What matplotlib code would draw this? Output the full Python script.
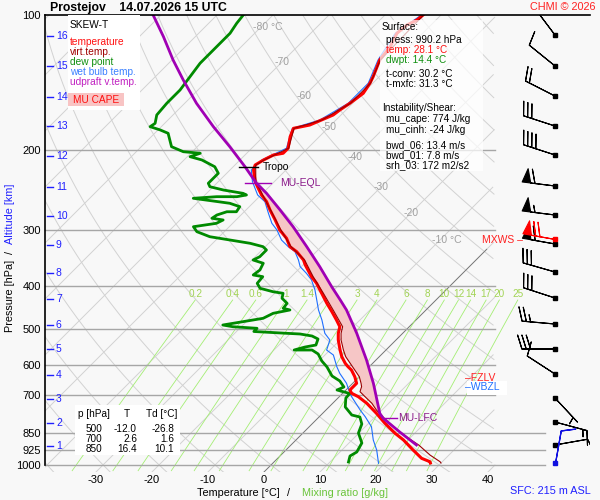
import numpy as np
import matplotlib
matplotlib.use('Agg')
import matplotlib.pyplot as plt
from matplotlib.patches import Rectangle
from matplotlib.ticker import NullLocator

plt.rcParams['font.family'] = ['Liberation Sans', 'DejaVu Sans']

# ---- sounding values (hPa, deg C) ----
temp_p = [100, 102.6, 105.3, 109.8, 117.6, 125.9, 131.4, 137.1, 141.8, 149.3, 153.2, 157.1, 162.6,
          166.8, 171.2, 175.6, 178.6, 186.4, 197.8, 202.9, 204.7, 210.0, 215.5, 221.0, 234.7, 240.8,
          251.2, 260.0, 271.3, 285.5, 300.5, 313.6, 327.3, 335.8, 350.4, 359.4, 381.6, 394.8, 415.5,
          437.3, 456.5, 476.3, 493.0, 509.9, 527.7, 555.4, 574.7, 594.5, 604.9, 615.2, 636.7, 658.6,
          670.2, 681.5, 693.1, 705.3, 729.6, 767.9, 808.2, 850.6, 880.3, 926.6, 966.8, 983.7, 990.2]
temp_t = [-53.2, -53.4, -54.3, -54.6, -53.4, -52.9, -52.0, -51.1, -50.5, -49.9, -50.2, -50.5, -51.1,
          -51.4, -52.6, -53.8, -56.1, -55.2, -53.5, -53.5, -54.9, -55.8, -56.4, -55.8, -53.4, -52.1,
          -49.9, -47.8, -45.7, -43.0, -40.4, -37.7, -35.6, -33.5, -30.8, -29.6, -26.4, -24.3, -21.6,
          -18.9, -16.5, -14.2, -12.4, -11.5, -10.3, -8.2, -6.7, -4.9, -3.8, -2.6, -0.8, 0.7,
          0.7, 0.7, 1.6, 3.4, 6.1, 9.6, 12.9, 16.5, 19.2, 22.7, 25.7, 27.8, 28.1]

virt_p = [100, 125.9, 141.8, 157.1, 171.2, 178.6, 197.8, 210.0, 215.5, 234.7, 251.2, 271.3, 300.5,
          327.3, 350.4, 381.6, 415.5, 456.5, 493.0, 509.9, 527.7, 555.4, 574.7, 604.9, 636.7, 658.6,
          670.2, 687.4, 705.3, 729.6, 755.0, 787.8, 836.3, 872.6, 903.0, 950.5, 983.7, 990.2]
virt_t = [-53.1, -52.8, -50.4, -50.4, -52.5, -56.0, -53.4, -55.7, -56.3, -53.3, -49.7, -45.6, -40.2,
          -35.4, -30.6, -26.1, -21.3, -16.1, -11.9, -11.0, -9.8, -7.6, -6.0, -3.0, 0.0, 1.5,
          2.2, 2.8, 4.6, 7.0, 9.0, 11.9, 16.3, 19.8, 22.8, 26.6, 29.6, 30.0]

dew_p = [100.0, 104.3, 109.8, 115.6, 121.7, 128.0, 137.1, 146.8, 157.1, 166.8,
         174.1, 177.1, 180.1, 183.2, 189.6, 196.2, 201.3, 202.9, 206.5, 210.0,
         217.4, 224.8, 236.6, 240.8, 244.9, 249.1, 251.2, 253.4, 253.4, 255.5,
         262.1, 266.7, 273.7, 273.7, 278.3, 283.0, 285.5, 290.4, 295.5, 303.1,
         311.0, 316.3, 321.7, 327.3, 332.9, 344.5, 350.4, 356.3, 368.7, 378.3,
         381.6, 394.8, 405.0, 412.1, 415.5, 426.2, 437.3, 448.6, 452.5, 460.3,
         472.2, 476.3, 488.7, 493.0, 497.0, 505.2, 509.9, 511.7, 517.0, 525.0,
         541.4, 547.0, 555.4, 555.4, 566.8, 587.5, 605.8, 634.3, 650.9, 671.2,
         681.5, 693.9, 710.0, 743.4, 774.6, 782.5, 811.1, 849.3, 894.0, 936.0,
         955.4, 985.1]
dew_t = [-85.3, -85.0, -84.4, -84.4, -84.4, -84.4, -83.8, -83.2, -83.2, -82.9,
         -81.7, -82.0, -79.6, -77.6, -76.1, -74.6, -71.6, -68.3, -69.5, -66.8,
         -63.3, -61.5, -61.5, -60.6, -57.6, -53.5, -52.6, -54.0, -57.6, -61.5,
         -54.1, -51.7, -51.4, -53.1, -54.3, -54.6, -52.3, -52.9, -56.4, -54.9,
         -51.7, -47.5, -43.3, -40.4, -39.2, -39.2, -39.8, -37.4, -36.8, -37.1,
         -35.1, -34.9, -33.5, -30.6, -28.5, -27.8, -26.0, -25.8, -24.3, -26.7,
         -27.6, -29.1, -33.6, -31.5, -26.9, -26.9, -20.7, -18.2, -15.7, -14.1,
         -13.4, -15.0, -16.4, -13.2, -11.4, -9.5, -7.5, -5.0, -2.7, -0.9,
         -1.6, 1.3, 1.4, 2.9, 5.5, 7.3, 8.9, 9.9, 12.3, 13.0,
         12.5, 13.3]

wb_p = [100, 109.8, 125.9, 141.8, 157.1, 171.2, 178.6, 197.8, 210.0, 221.0,
        234.7, 251.2, 260.0, 275.9, 290.4, 300.5, 316.3, 327.3, 335.8, 350.4,
        362.6, 375.1, 388.1, 408.5, 429.9, 452.5, 476.3, 509.9, 527.7, 555.4,
        569.8, 604.9, 625.7, 658.6, 681.5, 705.3, 755.0, 781.3, 822.3, 880.3,
        926.6, 991.8]
wb_t = [-53.5, -54.9, -53.2, -50.8, -50.8, -52.9, -56.3, -53.8, -56.1, -56.2,
        -53.9, -50.6, -48.1, -45.4, -43.0, -40.9, -38.3, -35.9, -33.8, -31.7,
        -30.2, -27.9, -25.8, -23.4, -21.3, -19.2, -16.8, -13.9, -11.8, -10.6,
        -8.5, -5.8, -4.1, -1.1, 0.5, 2.2, 6.1, 8.2, 11.1, 13.8,
        16.2, 18.9]

parcel_p = [100.0, 111.7, 125.9, 139.5, 157.1, 177.1, 196.2, 217.4, 236.6, 249.1, 271.3, 295.5,
            327.3, 362.6, 401.7, 429.9, 452.5, 509.9, 584.4, 658.6, 767.9, 787.8, 845.0, 903.0]
parcel_t = [-101.4, -95.7, -89.8, -84.4, -77.9, -70.7, -64.2, -57.9, -52.9, -49.3, -43.9, -38.6,
            -32.6, -26.7, -21.0, -17.1, -14.2, -8.2, -1.7, 3.7, 10.2, 11.7, 17.1, 22.4]

tropo_p = 217.9
eql_p = 236.6
lfc_p = 787.8

# wind (kt), base points of the barb column
barb_p = [110.8, 129.8, 151.4, 176.5, 204.7, 239.9, 278.3, 322.8, 372.6, 425.6, 486.2, 552.6,
          628.0, 710.0, 802.8, 903.0]
barb_dir = [323, 309, 297, 288, 288, 277, 277, 280, 286, 288, 275, 270, 303, 137, 105, 80]
barb_kt = [5, 10, 20, 30, 40, 60, 55, 60, 30, 30, 25, 30, 10, 5, 15, 10]
mxws_p, mxws_dir, mxws_kt = 314.7, 280, 70
sfc_p, sfc_dir, sfc_kt = 990.2, 10, 10

# axes furniture
p_ticks = [100, 200, 300, 400, 500, 600, 700, 850, 925, 1000]
t_ticks = [-30, -20, -10, 0, 10, 20, 30, 40]
alt_km = list(range(1, 17))
alt_p = [907.6, 806.9, 713.8, 631.2, 552.6, 488.7, 427.8, 374.5, 324.5, 279.7, 241.1, 205.8,
         176.5, 152.2, 129.8, 111.3]
mix_w = [0.2, 0.4, 0.6, 1, 1.4, 2, 3, 4, 6, 8, 10, 12, 14, 17, 20, 25]
mix_lab = ['0.2', '0.4', '0.6', '1', '1.4', '2', '3', '4', '6', '8', '10', '12', '14', '17', '20', '25']
iso_lab_t = [-80, -70, -60, -50, -40, -30, -20, -10]
iso_lab_p = [106.3, 127.2, 151.4, 177.4, 206.8, 241.1, 275.5, 316.3]

table_head = ['p [hPa]', 'T', 'Td [°C]']
table_rows = [['500', '-12.0', '-26.8'], ['700', '2.6', '1.6'], ['850', '16.4', '10.1']]

# ---- skew-T coordinates: x = temperature at the bottom of the diagram ----
P_BOT = 1036.9
SKEW = 34.89
PXT = 5.6      # pixels per deg C


def skx(t, p):
    return np.asarray(t, float) + SKEW * np.log(P_BOT / np.asarray(p, float))


def xpx(px):
    # horizontal pixel -> diagram x
    return (px - 264) / PXT


def fx(px):
    return px / 600


def fy(py):
    return 1 - py / 500


fig = plt.figure(figsize=(6, 5), dpi=100, facecolor='#f8f8f8')
ax = fig.add_axes([45 / 600, 28 / 500, 545 / 600, 457 / 500])
ax.set_yscale('log')
ax.set_ylim(P_BOT, 100)
x0, x1 = xpx(45), xpx(590)
ax.set_xlim(x0, x1)
ax.patch.set_visible(False)
for s in ['top', 'right', 'bottom']:
    ax.spines[s].set_visible(False)
ax.spines['left'].set_bounds(1000, 100)
ax.spines['left'].set_linewidth(1.2)
ax.set_yticks(p_ticks)
ax.set_yticklabels([str(p) for p in p_ticks])
ax.yaxis.set_minor_locator(NullLocator())
ax.tick_params(axis='y', length=0, pad=3, labelsize=8)
ax.set_xticks(t_ticks)
ax.set_xticklabels([str(t) for t in t_ticks])
ax.tick_params(axis='x', length=0, pad=2, labelsize=8)

# background lines
pp = np.geomspace(100, P_BOT, 200)
xr = xpx(495)
for t in range(-140, 50, 10):
    x = skx(t, pp)
    x[x > xr] = np.nan
    ax.plot(x, pp, color='#d2d2d2', lw=0.7, zorder=1)
for th in np.arange(233.15, 520, 10):
    x = skx(th * (pp / 1000) ** 0.2857 - 273.15, pp)
    x[x > xr] = np.nan
    ax.plot(x, pp, color='#d2d2d2', lw=0.7, zorder=1)
x = skx(0, pp)
x[x > xpx(487)] = np.nan
ax.plot(x, pp, color='#707070', lw=0.6, zorder=1)

pm = np.geomspace(430, 1030, 60)
for w, lab in zip(mix_w, mix_lab):
    e = w * pm / (622 + w)
    a = np.log(e / 6.112)
    td = 243.5 * a / (17.67 - a)
    ax.plot(skx(td, pm), pm, color='#a4ee74', lw=0.6, zorder=1)
    ax.text(skx(td[0], pm[0]), 416, lab, color='#a2d455', fontsize=7.2,
            ha='center', va='center', zorder=2)

for p in p_ticks[1:]:
    xe = xpx(545) if p >= 850 else xr
    ax.plot([x0, xe], [p, p], color='#a6a6a6', lw=1, zorder=1, clip_on=False)
ax.plot([x0, x1], [100, 100], color='k', lw=1.2, zorder=6, clip_on=False)

for t, p in zip(iso_lab_t, iso_lab_p):
    if t in (-80, -10):
        ax.text(skx(t, p) - 1.4, p, f'{t} °C', color='#a0a0a0', fontsize=7.5,
                ha='left', va='center', zorder=2)
    else:
        ax.text(skx(t, p), p, str(t), color='#a0a0a0', fontsize=7.5,
                ha='center', va='center', zorder=2)

# CAPE area between parcel and environment virtual temperature
pf = np.geomspace(eql_p, lfc_p, 150)
tp = np.interp(np.log(pf), np.log(parcel_p), parcel_t)
tv = np.interp(np.log(pf), np.log(virt_p), virt_t)
ax.fill_betweenx(pf, skx(tv, pf), skx(tp, pf), color='#f6c6c6', lw=0, zorder=2)

# profiles
ax.plot(skx(wb_t, wb_p), wb_p, color='#1e6eff', lw=0.8, zorder=3)
ax.plot(skx(dew_t, dew_p), dew_p, color='#008a00', lw=2, zorder=4)
ax.plot(skx(temp_t, temp_p), temp_p, color='#ff0000', lw=2.2, zorder=4)
ax.plot(skx(virt_t, virt_p), virt_p, color='#9a0000', lw=0.8, zorder=5)
ax.plot(skx(parcel_t, parcel_p), parcel_p, color='#a000b4', lw=2, zorder=5)

# level markers
xt = skx(np.interp(np.log(tropo_p), np.log(temp_p), temp_t), tropo_p)
ax.plot([xt - 15 / PXT, xt + 4 / PXT], [tropo_p, tropo_p], color='k', lw=1, zorder=6)
ax.text(xt + 8 / PXT, tropo_p, 'Tropo', fontsize=7.5, ha='left', va='center', zorder=6)
xe_ = skx(np.interp(np.log(eql_p), np.log(parcel_p), parcel_t), eql_p)
ax.plot([xe_ - 11 / PXT, xe_ + 15 / PXT], [eql_p, eql_p], color='#a000b4', lw=1, zorder=6)
ax.text(xe_ + 24 / PXT, eql_p, 'MU-EQL', color='#8a1a8a', fontsize=7.5, ha='left', va='center', zorder=6)
xl = skx(np.interp(np.log(lfc_p), np.log(parcel_p), parcel_t), lfc_p)
ax.plot([xl, xl + 14 / PXT], [lfc_p, lfc_p], color='#a000b4', lw=1, zorder=6)
ax.text(xl + 15 / PXT, lfc_p, 'MU-LFC', color='#8a1a8a', fontsize=7.5, ha='left', va='center', zorder=6)

# altitude scale
ytr = ax.get_yaxis_transform()
for km, p in zip(alt_km, alt_p):
    ax.plot([2 / 545, 8 / 545], [p, p], color='#2020ff', lw=1, transform=ytr, zorder=6)
    ax.text(11 / 545, p, str(km), color='#2020ff', fontsize=7.5, ha='left', va='center',
            transform=ytr, zorder=6)

# wind barbs
xb = xpx(555)
d = np.radians(barb_dir)
s = np.array(barb_kt, float)
bsz = dict(spacing=0.13, height=0.42, width=0.26)
blen = 6.9
ax.barbs(np.full(len(barb_p), xb), barb_p, -s * np.sin(d), -s * np.cos(d),
         length=blen, lw=0.8, color='k', sizes=bsz, zorder=6)
ax.plot(np.full(len(barb_p), xb), barb_p, 's', ms=2.5, color='k', zorder=7)
dm = np.radians(mxws_dir)
ax.barbs([xb], [mxws_p], [-mxws_kt * np.sin(dm)], [-mxws_kt * np.cos(dm)],
         length=blen, lw=0.8, color='red', sizes=bsz, zorder=7)
ax.plot([xb], [mxws_p], 's', ms=2.5, color='red', zorder=7)
ds = np.radians(sfc_dir)
ax.barbs([xb], [sfc_p], [-sfc_kt * np.sin(ds)], [-sfc_kt * np.cos(ds)],
         length=blen, lw=0.9, color='#1010e0', sizes=bsz, zorder=7)
ax.plot([xb], [sfc_p], 's', ms=2.5, color='#1010e0', zorder=7)

# ---- text and boxes (figure pixels) ----
fig.text(fx(50), fy(8), 'Prostejov    14.07.2026 15 UTC', fontsize=8.8, fontweight='bold',
         ha='left', va='center')
fig.text(fx(596), fy(7), 'CHMI © 2026', fontsize=7.8, color='#ff2020', ha='right', va='center')
fig.text(fx(591), fy(491), 'SFC: 215 m ASL', fontsize=7.8, color='#2020ff', ha='right', va='center')
fig.text(fx(482), fy(240), 'MXWS –', fontsize=7.5, color='#ff2020', ha='left', va='center')

fig.text(fx(197), fy(493), 'Temperature [°C]', fontsize=7.8, ha='left', va='center')
fig.text(fx(287), fy(493), '/', fontsize=7.8, ha='left', va='center')
fig.text(fx(302), fy(493), 'Mixing ratio [g/kg]', fontsize=7.8, color='#6ac43a', ha='left', va='center')
fig.text(fx(10), fy(296), 'Pressure [hPa]', fontsize=7.8, rotation=90, ha='center', va='center')
fig.text(fx(10), fy(252), '/', fontsize=7.8, rotation=90, ha='center', va='center')
fig.text(fx(10), fy(214), 'Altitude [km]', fontsize=7.8, color='#2020ff', rotation=90,
         ha='center', va='center')

# legend box
fig.add_artist(Rectangle((fx(68), fy(110)), 72 / 600, 95 / 500, transform=fig.transFigure,
                         facecolor='white', edgecolor='none', zorder=8))
leg = [('SKEW-T', 'black', 25), ('temperature', '#ff1010', 42), ('virt.temp.', '#a00000', 52),
       ('dew point', '#109010', 62), ('wet bulb temp.', '#3a80ff', 72),
       ('udpraft v.temp.', '#c020c0', 82)]
for txt, c, y in leg:
    fig.text(fx(70), fy(y), txt, fontsize=7.3, color=c, ha='left', va='center', zorder=9)
fig.add_artist(Rectangle((fx(68), fy(106)), 56 / 600, 13 / 500, transform=fig.transFigure,
                         facecolor='#f8c4c4', edgecolor='none', zorder=9))
fig.text(fx(96), fy(100), 'MU CAPE', fontsize=7.3, color='#ff1010', ha='center', va='center', zorder=10)

# surface / instability box (semi transparent)
fig.add_artist(Rectangle((fx(380), fy(171)), 103 / 600, 151 / 500, transform=fig.transFigure,
                         facecolor='white', edgecolor='none', alpha=0.72, zorder=8))
info = [('Surface:', 'black', 27, 382), ('press: 990.2 hPa', 'black', 40, 386),
        ('temp: 28.1 °C', '#ff1010', 50, 386), ('dwpt: 14.4 °C', '#109010', 60, 386),
        ('t-conv: 30.2 °C', 'black', 74, 386), ('t-mxfc: 31.3 °C', 'black', 84, 386),
        ('Instability/Shear:', 'black', 108, 382), ('mu_cape: 774 J/kg', 'black', 119, 386),
        ('mu_cinh: -24 J/kg', 'black', 130, 386), ('bwd_06: 13.4 m/s', 'black', 145, 386),
        ('bwd_01: 7.8 m/s', 'black', 155, 386), ('srh_03: 172 m2/s2', 'black', 165, 386)]
for txt, c, y, x in info:
    fig.text(fx(x), fy(y), txt, fontsize=7.2, color=c, ha='left', va='center', zorder=9)

# freezing / wet bulb zero labels
fig.text(fx(465), fy(378), '–FZLV', fontsize=7.5, color='#ff2020', ha='left', va='center', zorder=8)
fig.add_artist(Rectangle((fx(467), fy(395)), 40 / 600, 14 / 500, transform=fig.transFigure,
                         facecolor='white', edgecolor='none', zorder=8.5))
fig.text(fx(465), fy(387), '–WBZL', fontsize=7.5, color='#2070ff', ha='left', va='center', zorder=9)

# table of standard levels
fig.add_artist(Rectangle((fx(75), fy(455)), 105 / 600, 50 / 500, transform=fig.transFigure,
                         facecolor='white', edgecolor='none', zorder=8))
fig.text(fx(78), fy(414), table_head[0], fontsize=7.2, ha='left', va='center', zorder=9)
fig.text(fx(127), fy(414), table_head[1], fontsize=7.2, ha='center', va='center', zorder=9)
fig.text(fx(146), fy(414), table_head[2], fontsize=7.2, ha='left', va='center', zorder=9)
for i, (pv, tv_, tdv) in enumerate(table_rows):
    y = fy(429 + 10 * i)
    fig.text(fx(102), y, pv, fontsize=7.2, ha='right', va='center', zorder=9)
    fig.text(fx(137), y, tv_, fontsize=7.2, ha='right', va='center', zorder=9)
    fig.text(fx(174), y, tdv, fontsize=7.2, ha='right', va='center', zorder=9)

fig.savefig('out.png', dpi=100, facecolor=fig.get_facecolor())
